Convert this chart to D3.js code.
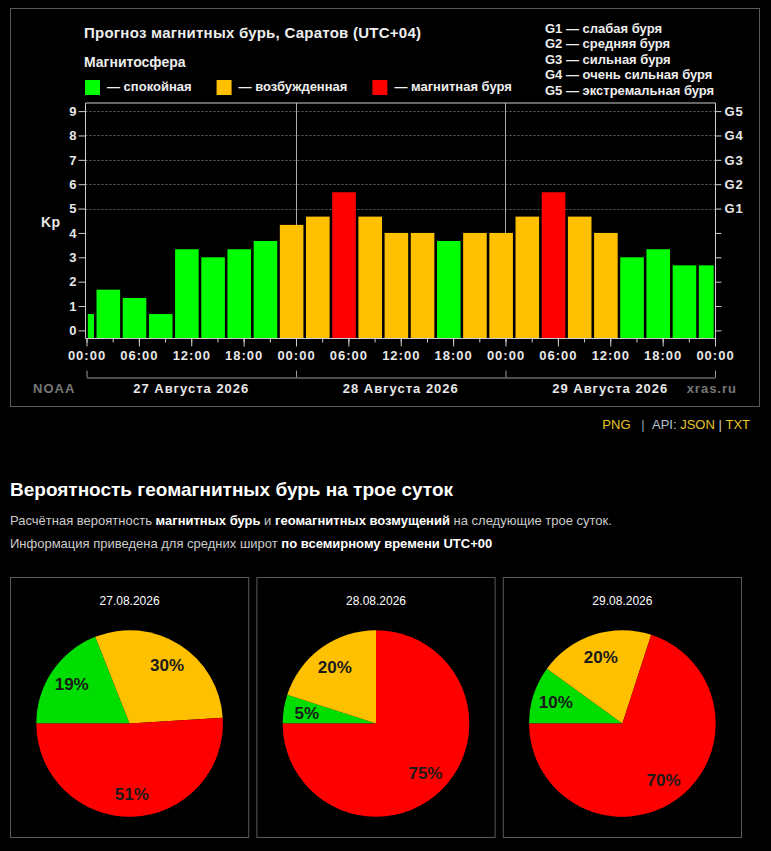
<!DOCTYPE html>
<html>
<head>
<meta charset="utf-8">
<script src="https://cdn.jsdelivr.net/npm/d3@7"></script>
<style>
    html, body { margin: 0; padding: 0; background: #000; overflow: hidden; }
    svg { display: block; font-family: "Liberation Sans", Arial, sans-serif; }
    .chart-text { font-weight: bold; fill: #eee; }
    .tick-label { font-weight: bold; font-size: 13px; letter-spacing: 1px; fill: #e8e8e8; }
    .axis .domain { display: none; }
    .axis line { stroke: #ccc; }
    .grid-line { stroke: #666; stroke-dasharray: 2,2; }
    .day-line { stroke: #aaa; }
    .frame { stroke: #ccc; fill: none; }
    .box { stroke: #595959; fill: none; }
</style>
</head>
<body>
<svg id="page" width="771" height="851"></svg>
<script>
// ===================================================================
// DATA
// ===================================================================
const kpTimes = [
    '2026-08-26 22:00',
    '2026-08-27 01:00', '2026-08-27 04:00', '2026-08-27 07:00', '2026-08-27 10:00',
    '2026-08-27 13:00', '2026-08-27 16:00', '2026-08-27 19:00', '2026-08-27 22:00',
    '2026-08-28 01:00', '2026-08-28 04:00', '2026-08-28 07:00', '2026-08-28 10:00',
    '2026-08-28 13:00', '2026-08-28 16:00', '2026-08-28 19:00', '2026-08-28 22:00',
    '2026-08-29 01:00', '2026-08-29 04:00', '2026-08-29 07:00', '2026-08-29 10:00',
    '2026-08-29 13:00', '2026-08-29 16:00', '2026-08-29 19:00', '2026-08-29 22:00'
];
const kpValues = [
    0.67,
    1.67, 1.33, 0.67, 3.33, 3.00, 3.33, 3.67, 4.33,
    4.67, 5.67, 4.67, 4.00, 4.00, 3.67, 4.00, 4.00,
    4.67, 5.67, 4.67, 4.00, 3.00, 3.33, 2.67, 2.67
];
const kpTicks = [0, 1, 2, 3, 4, 5, 6, 7, 8, 9];
const gLevels = [5, 6, 7, 8, 9];
const gLabels = ['G1', 'G2', 'G3', 'G4', 'G5'];
const gNotes = [
    'G1 — слабая буря',
    'G2 — средняя буря',
    'G3 — сильная буря',
    'G4 — очень сильная буря',
    'G5 — экстремальная буря'
];
const dayStarts = ['2026-08-27 00:00', '2026-08-28 00:00', '2026-08-29 00:00', '2026-08-30 00:00'];
const dayLabels = ['27 Августа 2026', '28 Августа 2026', '29 Августа 2026'];
const legendLabels = ['— спокойная', '— возбужденная', '— магнитная буря'];

const pieDates = ['27.08.2026', '28.08.2026', '29.08.2026'];
const pieCalm = [19, 5, 10];
const pieActive = [30, 20, 20];
const pieStorm = [51, 75, 70];

const colors = { calm: '#00ff00', active: '#ffc000', storm: '#ff0000' };
const pieColors = ['#00dd00', '#ffc000', '#ff0000'];

// ===================================================================
const svg = d3.select('#page');
const parse = d3.utcParse('%Y-%m-%d %H:%M');
const days = dayStarts.map(parse);
const step = 3 * 3600 * 1000;

function kpColor(v) {
    if (v < 4) return colors.calm;
    if (v < 5) return colors.active;
    return colors.storm;
}

// Outer box of the chart image
svg.append('rect')
    .attr('class', 'box')
    .attr('x', 10.5).attr('y', 8.5)
    .attr('width', 749).attr('height', 398);

// Header
svg.append('text')
    .attr('class', 'chart-text')
    .attr('x', 84).attr('y', 38)
    .style('font-size', '15px')
    .style('letter-spacing', '0.25px')
    .text('Прогноз магнитных бурь, Саратов (UTC+04)');

svg.append('text')
    .attr('class', 'chart-text')
    .attr('x', 84).attr('y', 67)
    .style('font-size', '14px')
    .text('Магнитосфера');

// Legend
let lx = 85;
[colors.calm, colors.active, colors.storm].forEach((c, i) => {
    svg.append('rect')
        .attr('x', lx).attr('y', 80)
        .attr('width', 15).attr('height', 15)
        .attr('fill', c);
    const t = svg.append('text')
        .attr('class', 'chart-text')
        .attr('x', lx + 22).attr('y', 91)
        .style('font-size', '13px')
        .text(legendLabels[i]);
    lx += 22 + t.node().getComputedTextLength() + 25;
});

// G scale notes
svg.append('g')
    .selectAll('text')
    .data(gNotes)
    .join('text')
    .attr('class', 'chart-text')
    .attr('x', 545)
    .attr('y', (d, i) => 32.5 + i * 15.5)
    .style('font-size', '13px')
    .text(d => d);

// Scales
const plotLeft = 85.5, plotRight = 715.5, plotTop = 103, plotBottom = 338.5;
const x = d3.scaleUtc()
    .domain([days[0], days[days.length - 1]])
    .range([86.5, 715])
    .clamp(true);
const y = d3.scaleLinear()
    .domain([-1 / 3, 28 / 3])
    .range([plotBottom, plotTop]);

const plot = svg.append('g');

// Grid for G levels
plot.selectAll('.grid-line')
    .data(gLevels)
    .join('line')
    .attr('class', 'grid-line')
    .attr('x1', plotLeft).attr('x2', plotRight)
    .attr('y1', d => Math.round(y(d)) + 0.5)
    .attr('y2', d => Math.round(y(d)) + 0.5);

// Day separators
plot.selectAll('.day-line')
    .data(days.slice(1, -1))
    .join('line')
    .attr('class', 'day-line')
    .attr('x1', d => Math.round(x(d)) + 0.5)
    .attr('x2', d => Math.round(x(d)) + 0.5)
    .attr('y1', plotTop).attr('y2', plotBottom);

// Bars
const kpData = kpTimes.map((t, i) => ({ start: parse(t), kp: kpValues[i] }));
plot.selectAll('.bar')
    .data(kpData)
    .join('rect')
    .attr('class', 'bar')
    .attr('x', d => x(d.start) + 1.3)
    .attr('width', d => Math.max(0, x(new Date(+d.start + step)) - x(d.start) - 2.6))
    .attr('y', d => y(d.kp))
    .attr('height', d => plotBottom - 0.5 - y(d.kp))
    .attr('fill', d => kpColor(d.kp));

// Frame
plot.append('path')
    .attr('class', 'frame')
    .attr('d', `M${plotLeft},${plotBottom}V${plotTop}H${plotRight}V${plotBottom}H${plotLeft}`);

// Left axis
const yAxis = svg.append('g')
    .attr('class', 'axis')
    .attr('transform', `translate(${plotLeft},0)`)
    .call(d3.axisLeft(y).tickValues(kpTicks).tickSize(7).tickPadding(1));
yAxis.selectAll('text')
    .attr('class', 'tick-label')
    .attr('fill', null);

// Right axis (G levels)
const gAxis = svg.append('g')
    .attr('class', 'axis')
    .attr('transform', `translate(${plotRight},0)`)
    .call(d3.axisRight(y)
        .tickValues(kpTicks)
        .tickSize(6)
        .tickPadding(3)
        .tickFormat(d => gLevels.includes(d) ? gLabels[gLevels.indexOf(d)] : ''));
gAxis.selectAll('text')
    .attr('class', 'tick-label')
    .attr('fill', null);

// Kp label
svg.append('text')
    .attr('class', 'tick-label')
    .attr('x', 41).attr('y', 226.5)
    .style('font-size', '14px')
    .style('letter-spacing', '0.5px')
    .text('Kp');

// Bottom axis: minor and major ticks
svg.append('g')
    .attr('class', 'axis')
    .attr('transform', `translate(0,${plotBottom})`)
    .call(d3.axisBottom(x).ticks(d3.utcHour.every(3)).tickSize(4).tickFormat(''));

const xAxis = svg.append('g')
    .attr('class', 'axis')
    .attr('transform', `translate(0,${plotBottom})`)
    .call(d3.axisBottom(x)
        .ticks(d3.utcHour.every(6))
        .tickSize(8)
        .tickPadding(4)
        .tickFormat(d3.utcFormat('%H:%M')));
xAxis.selectAll('text')
    .attr('class', 'tick-label')
    .attr('fill', null);

// Day brackets
const bracket = svg.append('g')
    .attr('transform', 'translate(0,377.5)')
    .call(d3.axisTop(x).tickValues(days).tickSize(7).tickSizeOuter(0).tickFormat(''));
bracket.selectAll('path, line').attr('stroke', '#999');

svg.append('g')
    .selectAll('text')
    .data(dayLabels)
    .join('text')
    .attr('class', 'tick-label')
    .attr('text-anchor', 'middle')
    .attr('x', (d, i) => (x(days[i]) + x(days[i + 1])) / 2)
    .attr('y', 393)
    .text(d => d);

svg.append('text')
    .attr('class', 'tick-label')
    .attr('x', 33).attr('y', 393)
    .style('fill', '#777')
    .text('NOAA');

svg.append('text')
    .attr('class', 'tick-label')
    .attr('x', 737).attr('y', 393)
    .attr('text-anchor', 'end')
    .style('fill', '#777')
    .text('xras.ru');

// Links row
const links = svg.append('text')
    .attr('x', 750).attr('y', 428.5)
    .attr('text-anchor', 'end')
    .style('font-size', '13px');
links.append('tspan').attr('fill', '#e6c42a').text('PNG');
links.append('tspan').attr('fill', '#8fa0b8').text('\u00a0\u00a0\u00a0|\u00a0\u00a0');
links.append('tspan').attr('fill', '#b9c2d2').text('API:\u00a0');
links.append('tspan').attr('fill', '#e6c42a').text('JSON');
links.append('tspan').attr('fill', '#cccccc').text('\u00a0|\u00a0');
links.append('tspan').attr('fill', '#e6c42a').text('TXT');

// ===================================================================
// Probability section
// ===================================================================
svg.append('text')
    .attr('x', 10).attr('y', 495.5)
    .style('font-size', '19px')
    .style('font-weight', 'bold')
    .attr('fill', '#fff')
    .text('Вероятность геомагнитных бурь на трое суток');

const para = [
    [['Расчётная вероятность ', false], ['магнитных бурь', true], [' и ', false],
     ['геомагнитных возмущений', true], [' на следующие трое суток.', false]],
    [['Информация приведена для средних широт ', false], ['по всемирному времени UTC+00', true]]
];
para.forEach((line, i) => {
    const t = svg.append('text')
        .attr('x', 10).attr('y', 524.5 + i * 23)
        .style('font-size', '13px')
        .style('white-space', 'pre');
    line.forEach(([s, b]) => {
        t.append('tspan')
            .attr('fill', b ? '#fff' : '#cccccc')
            .style('font-weight', b ? 'bold' : 'normal')
            .text(s);
    });
});

// Pie panels
const panel = d3.scaleBand()
    .domain(pieDates)
    .range([10, 742])
    .paddingInner(0.0292);
const radius = 93.3;
const pie = d3.pie().sort(null).startAngle(-Math.PI / 2).endAngle(Math.PI * 1.5);
const arc = d3.arc().innerRadius(0).outerRadius(radius);
const labelArc = d3.arc().innerRadius(radius * 0.75).outerRadius(radius * 0.75);

pieDates.forEach((date, i) => {
    const x0 = panel(date);
    const g = svg.append('g');
    g.append('rect')
        .attr('class', 'box')
        .attr('x', x0 + 0.5).attr('y', 577.5)
        .attr('width', panel.bandwidth() - 1).attr('height', 260);
    g.append('text')
        .attr('x', x0 + panel.bandwidth() / 2)
        .attr('y', 605)
        .attr('text-anchor', 'middle')
        .attr('fill', '#fff')
        .style('font-size', '12px')
        .text(date);

    const values = [pieCalm[i], pieActive[i], pieStorm[i]];
    const slices = pie(values);
    const pg = g.append('g')
        .attr('transform', `translate(${x0 + panel.bandwidth() / 2},723.5)`);
    pg.selectAll('path')
        .data(slices)
        .join('path')
        .attr('d', arc)
        .attr('fill', (d, j) => pieColors[j]);
    pg.selectAll('text')
        .data(slices)
        .join('text')
        .attr('transform', d => `translate(${labelArc.centroid(d)})`)
        .attr('text-anchor', 'middle')
        .attr('dy', '0.36em')
        .attr('fill', '#1a1a1a')
        .style('font-size', '17px')
        .style('font-weight', 'bold')
        .text(d => d.data + '%');
});
</script>
</body>
</html>
